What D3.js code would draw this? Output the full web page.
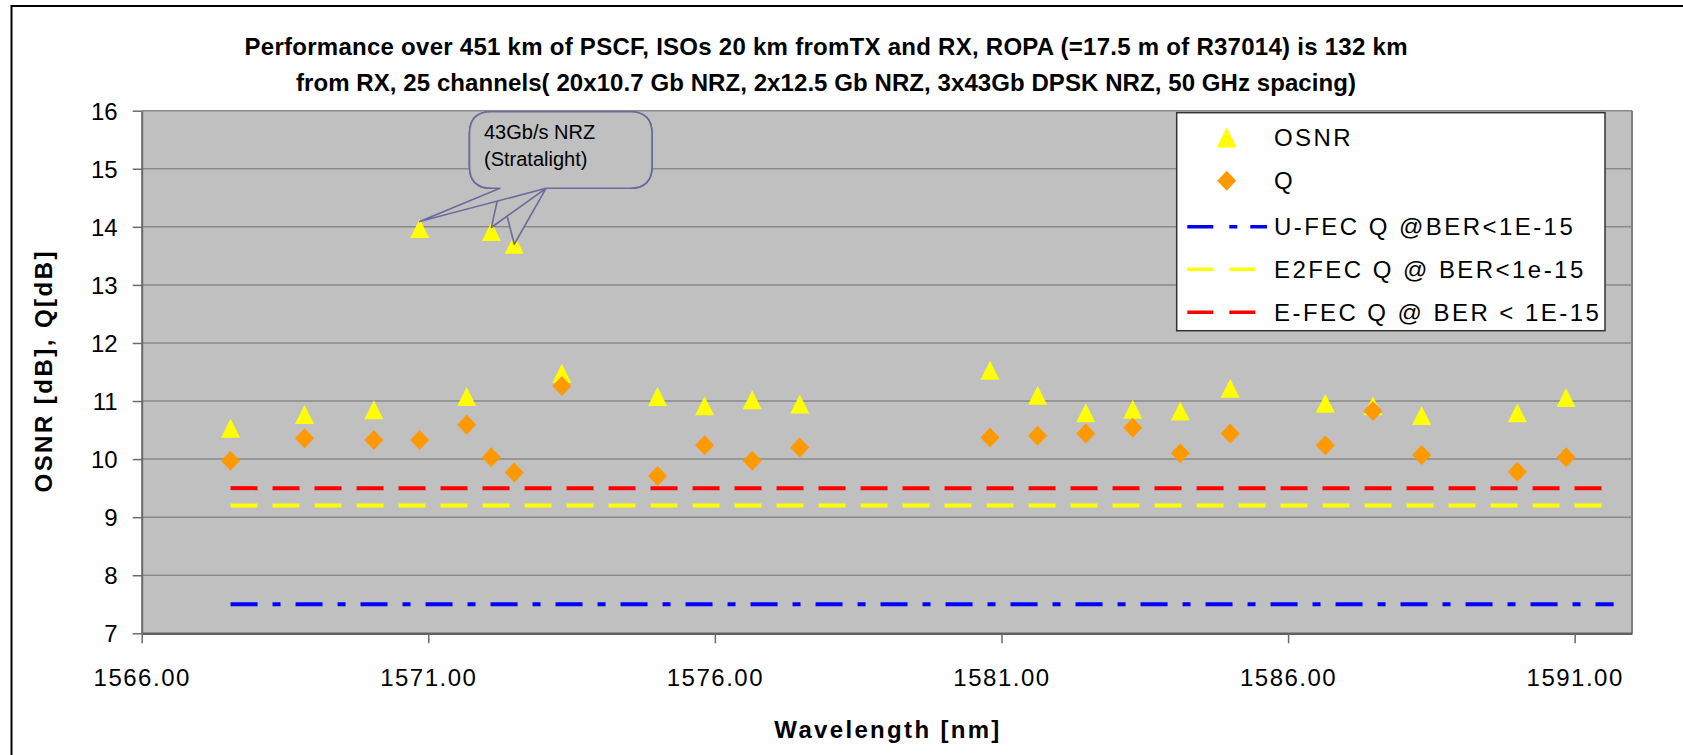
<!DOCTYPE html>
<html>
<head>
<meta charset="utf-8">
<script src="https://cdn.jsdelivr.net/npm/d3@7"></script>
<style>
  html, body { margin: 0; padding: 0; background: #ffffff; }
  svg { display: block; font-family: "Liberation Sans", Arial, sans-serif; }
</style>
</head>
<body>
<script>
// ---------------- DATA ----------------
const titleLines = [
  "Performance over 451 km of PSCF, ISOs 20 km fromTX and RX, ROPA (=17.5 m of R37014) is 132 km",
  "from RX, 25 channels( 20x10.7 Gb NRZ, 2x12.5 Gb NRZ, 3x43Gb DPSK NRZ, 50 GHz spacing)"
];
const xAxisTitle = "Wavelength [nm]";
const yAxisTitle = "OSNR [dB], Q[dB]";

const wavelengths = [1567.55, 1568.84, 1570.05, 1570.85, 1571.67, 1572.10, 1572.50, 1573.33,
  1575.00, 1575.82, 1576.65, 1577.48, 1580.80, 1581.63, 1582.47, 1583.29, 1584.12, 1584.99,
  1586.65, 1587.48, 1588.33, 1590.00, 1590.85];
const osnr = [10.53, 10.77, 10.85, 13.97, 11.08, 13.92, 13.70, 11.48,
  11.08, 10.92, 11.02, 10.95, 11.53, 11.10, 10.80, 10.86, 10.83, 11.22,
  10.96, 10.92, 10.75, 10.80, 11.06];
const qValues = [9.97, 10.36, 10.33, 10.33, 10.59, 10.03, 9.77, 11.26,
  9.71, 10.24, 9.97, 10.20, 10.37, 10.40, 10.44, 10.54, 10.10, 10.44,
  10.24, 10.83, 10.07, 9.78, 10.03];

const thresholdX = [1567.55, 1591.68];
const uFecQ  = [7.5, 7.5];
const e2FecQ = [9.2, 9.2];
const eFecQ  = [9.5, 9.5];

const xTicks = [1566, 1571, 1576, 1581, 1586, 1591];
const yTicks = [7, 8, 9, 10, 11, 12, 13, 14, 15, 16];
const xDomain = [1566, 1592];
const yDomain = [7, 16];

const legendLabels = ["OSNR", "Q", "U-FEC Q @BER<1E-15", "E2FEC Q @ BER<1e-15", "E-FEC Q @ BER < 1E-15"];
const calloutText = ["43Gb/s NRZ", "(Stratalight)"];
const calloutTargets = [3, 5, 6];   // indices of the 43 Gb/s channels

// ---------------- LAYOUT ----------------
const W = 1683, H = 755;
const plot = { left: 141.7, right: 1632, top: 110.7, bottom: 633.3 };
const FONT = "'Liberation Sans', Arial, sans-serif";

const svg = d3.select("body").append("svg").attr("width", W).attr("height", H);

// outer chart border
svg.append("path")
  .attr("d", `M11.5,${H + 5} L11.5,6 L${W + 5},6`)
  .attr("fill", "none").attr("stroke", "#000").attr("stroke-width", 2);

const x = d3.scaleLinear().domain(xDomain).range([plot.left, plot.right]);
const y = d3.scaleLinear().domain(yDomain).range([plot.bottom, plot.top]);

// plot background
svg.append("rect")
  .attr("x", plot.left).attr("y", plot.top)
  .attr("width", plot.right - plot.left).attr("height", plot.bottom - plot.top)
  .attr("fill", "#c0c0c0");

// gridlines
svg.append("g").selectAll("line").data(yTicks.filter(d => d !== yDomain[0])).join("line")
  .attr("x1", plot.left).attr("x2", plot.right)
  .attr("y1", d => y(d)).attr("y2", d => y(d))
  .attr("stroke", "#8a8a8a").attr("stroke-width", 1.5);

// right border of plot area
svg.append("line")
  .attr("x1", plot.right).attr("x2", plot.right)
  .attr("y1", plot.top).attr("y2", plot.bottom)
  .attr("stroke", "#808080").attr("stroke-width", 2);

// axes
const yAxis = d3.axisLeft(y).tickValues(yTicks).tickSize(9).tickSizeOuter(0).tickPadding(15)
  .tickFormat(d3.format("d"));
const gy = svg.append("g").attr("transform", `translate(${plot.left},0)`).call(yAxis);
gy.select(".domain").attr("stroke", "#6a6a6a").attr("stroke-width", 2);
gy.selectAll(".tick line").attr("stroke", "#6a6a6a").attr("stroke-width", 1.5);
gy.selectAll(".tick text").attr("font-family", FONT).attr("font-size", 24).attr("fill", "#000")
  .attr("dy", "0.35em");

const xAxis = d3.axisBottom(x).tickValues(xTicks).tickSize(10).tickSizeOuter(0)
  .tickFormat(d3.format(".2f"));
const gx = svg.append("g").attr("transform", `translate(0,${plot.bottom})`).call(xAxis);
gx.select(".domain").attr("stroke", "#606060").attr("stroke-width", 2.5);
gx.selectAll(".tick line").attr("stroke", "#6a6a6a").attr("stroke-width", 1.5);
gx.selectAll(".tick text").attr("font-family", FONT).attr("font-size", 24).attr("fill", "#000")
  .attr("y", 53).attr("dy", 0).attr("letter-spacing", 1.5);

// threshold lines
const line = d3.line().x(d => x(d[0])).y(d => y(d[1]));
const thresholds = [
  { vals: uFecQ,  color: "#0000ff", dash: "27,15,8,15" },
  { vals: e2FecQ, color: "#ffff00", dash: "27,15" },
  { vals: eFecQ,  color: "#ff0000", dash: "27,15" }
];
thresholds.forEach(t => {
  svg.append("path")
    .attr("d", line(thresholdX.map((xv, i) => [xv, t.vals[i]])))
    .attr("fill", "none").attr("stroke", t.color).attr("stroke-width", 4)
    .attr("stroke-dasharray", t.dash);
});

// markers
const triPath = "M0,-9.5 L9.5,9.5 L-9.5,9.5 Z";
const diaPath = "M0,-10 L9.5,0 L0,10 L-9.5,0 Z";
svg.append("g").selectAll("path").data(wavelengths).join("path")
  .attr("d", triPath)
  .attr("transform", (d, i) => `translate(${x(d)},${y(osnr[i])})`)
  .attr("fill", "#ffff00");
svg.append("g").selectAll("path").data(wavelengths).join("path")
  .attr("d", diaPath)
  .attr("transform", (d, i) => `translate(${x(d)},${y(qValues[i])})`)
  .attr("fill", "#ff9900");

// callout (three overlapping callout shapes, drawn back to front)
const box = { x0: 469.5, y0: 111.7, x1: 652, y1: 188.3, r: 22 };
const wedgeL = 500, wedgeR = 546;
const tipDy = [-7, -4, 0];
function calloutPath(tx, ty) {
  const { x0, y0, x1, y1, r } = box;
  return `M${wedgeR},${y1} L${x1 - r},${y1} Q${x1},${y1} ${x1},${y1 - r} L${x1},${y0 + r} Q${x1},${y0} ${x1 - r},${y0}` +
         ` L${x0 + r},${y0} Q${x0},${y0} ${x0},${y0 + r} L${x0},${y1 - r} Q${x0},${y1} ${x0 + r},${y1}` +
         ` L${wedgeL},${y1} L${tx},${ty} Z`;
}
const cg = svg.append("g");
[2, 1, 0].forEach(k => {
  const idx = calloutTargets[k];
  cg.append("path")
    .attr("d", calloutPath(x(wavelengths[idx]), y(osnr[idx]) + tipDy[k]))
    .attr("fill", "#c0c0c0").attr("stroke", "#6b6b9c").attr("stroke-width", 1.6)
    .attr("stroke-linejoin", "round");
});
cg.selectAll("text").data(calloutText).join("text")
  .attr("x", 484).attr("y", (d, i) => 139 + i * 27)
  .attr("font-family", FONT).attr("font-size", 20).attr("fill", "#000")
  .text(d => d);

// legend
const lg = svg.append("g");
lg.append("rect").attr("x", 1176.7).attr("y", 112.7).attr("width", 428.3).attr("height", 218)
  .attr("fill", "#fff").attr("stroke", "#333").attr("stroke-width", 1.5);
const rowY = [137.5, 180.7, 226.7, 269.3, 312.3];
lg.append("path").attr("d", triPath).attr("fill", "#ffff00")
  .attr("transform", `translate(1226.7,${rowY[0]}) scale(1.05)`);
lg.append("path").attr("d", diaPath).attr("transform", `translate(1226.7,${rowY[1]})`).attr("fill", "#ff9900");
lg.append("line").attr("x1", 1187.3).attr("x2", 1267).attr("y1", rowY[2]).attr("y2", rowY[2])
  .attr("stroke", "#0000ff").attr("stroke-width", 3.6).attr("stroke-dasharray", "26,16,8,13");
lg.append("line").attr("x1", 1187.3).attr("x2", 1256).attr("y1", rowY[3]).attr("y2", rowY[3])
  .attr("stroke", "#ffff00").attr("stroke-width", 3.6).attr("stroke-dasharray", "26,16");
lg.append("line").attr("x1", 1187.3).attr("x2", 1256).attr("y1", rowY[4]).attr("y2", rowY[4])
  .attr("stroke", "#ff0000").attr("stroke-width", 3.6).attr("stroke-dasharray", "26,16");
lg.selectAll("text").data(legendLabels).join("text")
  .attr("x", 1274).attr("y", (d, i) => rowY[i] + 8.5)
  .attr("font-family", FONT).attr("font-size", 24).attr("letter-spacing", 2.45).attr("fill", "#000")
  .text(d => d);

// titles
const titleLen = [1163, 1060];
svg.append("g").selectAll("text").data(titleLines).join("text")
  .attr("x", 826).attr("y", (d, i) => 55 + i * 36)
  .attr("text-anchor", "middle")
  .attr("font-family", FONT).attr("font-size", 24).attr("font-weight", "bold").attr("fill", "#000")
  .attr("textLength", (d, i) => titleLen[i]).attr("lengthAdjust", "spacing")
  .text(d => d);

svg.append("text")
  .attr("x", (plot.left + plot.right) / 2).attr("y", 738)
  .attr("text-anchor", "middle")
  .attr("font-family", FONT).attr("font-size", 24).attr("font-weight", "bold")
  .attr("textLength", 225).attr("lengthAdjust", "spacing")
  .text(xAxisTitle);

svg.append("text")
  .attr("transform", `translate(52,${(plot.top + plot.bottom) / 2}) rotate(-90)`)
  .attr("text-anchor", "middle")
  .attr("font-family", FONT).attr("font-size", 24).attr("font-weight", "bold")
  .attr("textLength", 241).attr("lengthAdjust", "spacing")
  .text(yAxisTitle);
</script>
</body>
</html>
